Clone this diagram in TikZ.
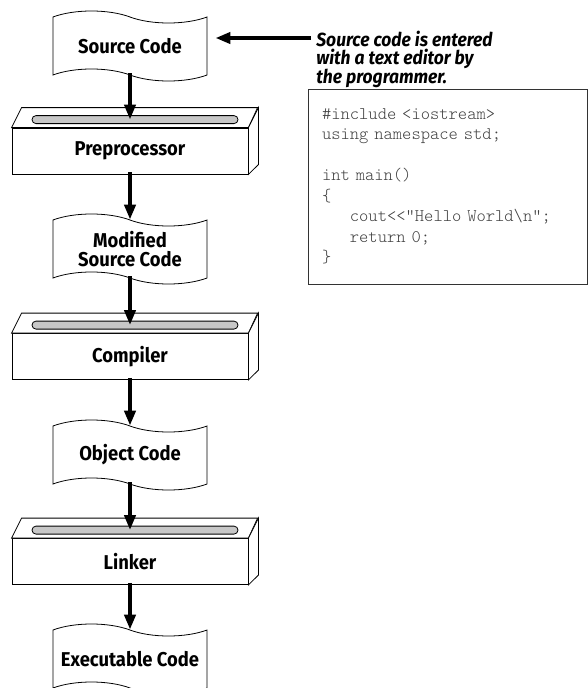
\documentclass[tikz,border=0pt]{standalone}
\usepackage{fontspec}
\setmainfont{Fira Sans}[FakeStretch=0.92]
\newfontfamily\codefont{Latin Modern Mono Light}
\usetikzlibrary{shapes.symbols,arrows.meta,positioning}

\begin{document}
\begin{tikzpicture}[x=1pt, y=-1pt, line width=0.8pt,
  doc/.style={tape,draw,fill=white,minimum width=154pt,minimum height=70pt,inner sep=0pt,
    tape bend top=out and in,tape bend bottom=out and in,tape bend height=12pt,
    align=center,font=\fontsize{20}{19}\selectfont\bfseries},
  machine/.style={rectangle,draw,fill=white,minimum width=236pt,minimum height=46pt,
    font=\fontsize{20}{24}\selectfont\bfseries},
  slot/.style={rectangle,draw,fill=black!22,rounded corners=4pt,minimum width=206pt,
    minimum height=8pt,inner sep=0pt},
  flow/.style={-{Triangle[length=15pt,width=11pt]},line width=4pt,shorten <=-2pt}]
\useasboundingbox (0,0) rectangle (588,688);

% documents and tools down the left
\node[doc] (src) at (130,46) {Source Code};
\node[machine] (pre) at (130,151) {Preprocessor};
\node[doc] (mod) at (130,249) {Modified\\Source Code};
\node[machine] (comp) at (130,356.5) {Compiler};
\node[doc] (obj) at (130,455) {Object Code};
\node[machine] (link) at (130,561.5) {Linker};
\node[doc] (exe) at (130,659) {Executable Code};

% 3D faces and slot of each tool
\foreach \m in {pre,comp,link}{
  \draw[fill=white] (\m.north west) -- ++(10,-20) -- ++(236,0) -- (\m.north east) -- cycle;
  \draw[fill=white] (\m.north east) -- ++(10,-20) -- ++(0,57) -- (\m.south east) -- cycle;
  \node[slot] (\m-slot) at ([xshift=5pt,yshift=8pt]\m.north) {};
}

% flow
\draw[flow] (src.south) -- (src.south |- pre-slot.center);
\draw[flow] (pre.south) -- (mod.north);
\draw[flow] (mod.south) -- (mod.south |- comp-slot.center);
\draw[flow] (comp.south) -- (obj.north);
\draw[flow] (obj.south) -- (obj.south |- link-slot.center);
\draw[flow] (link.south) -- (exe.north);

% note and code
\node[anchor=north west,inner sep=0pt,align=left,
  font=\fontsize{19}{17.5}\selectfont\bfseries\itshape] (note) at (316,31)
  {Source code is entered\\with a text editor by\\the programmer.};
\draw[flow,shorten <=5pt] (note.west |- 0,38) -- ([xshift=8pt]src.east |- 0,38);

\node[draw=black!80,line width=1pt,minimum width=279pt,minimum height=195pt,
  text width=251pt,inner xsep=14pt,align=left,text=black!75,
  font=\codefont\fontsize{17.7}{20.5}\selectfont] (code) at (447.5,186.5)
  {\#include <iostream>\\
   using namespace std;\\
   \mbox{}\\
   int main()\\
   \{\\
   \phantom{xxx}cout<<"Hello World\textbackslash n";\\
   \phantom{xxx}return 0;\\
   \}};
\end{tikzpicture}
\end{document}
